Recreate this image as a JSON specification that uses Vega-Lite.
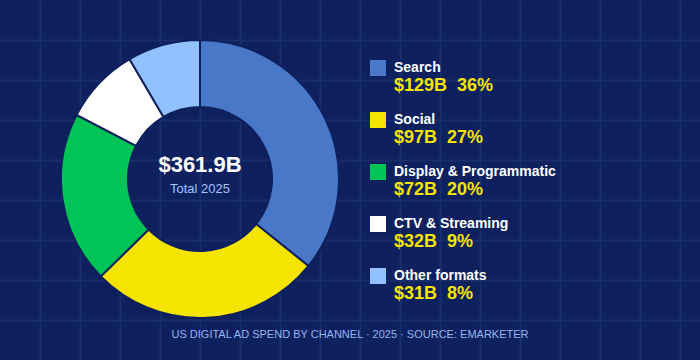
{
  "$schema": "https://vega.github.io/schema/vega-lite/v6.json",
  "width": 700,
  "height": 360,
  "autosize": {"type": "none"},
  "padding": 0,
  "background": "#0e205d",
  "config": {"view": {"stroke": null}, "font": "Liberation Sans"},
  "datasets": {
    "channels": [
      {"channel": "Search", "spend": 129.4, "figure": "$129B\u00a0\u00a036%", "rank": 1},
      {"channel": "Social", "spend": 97.3, "figure": "$97B\u00a0\u00a027%", "rank": 2},
      {"channel": "Display & Programmatic", "spend": 72.3, "figure": "$72B\u00a0\u00a020%", "rank": 3},
      {"channel": "CTV & Streaming", "spend": 32.3, "figure": "$32B\u00a0\u00a09%", "rank": 4},
      {"channel": "Other formats", "spend": 30.6, "figure": "$31B\u00a0\u00a08%", "rank": 5}
    ]
  },
  "layer": [
    {
      "layer": [
        {
          "data": {"name": "channels"},
          "mark": {"type": "arc", "outerRadius": 139, "innerRadius": 72, "stroke": "#0e205d", "strokeWidth": 2},
          "encoding": {
            "theta": {"field": "spend", "type": "quantitative", "stack": true},
            "order": {"field": "rank", "type": "quantitative"},
            "color": {
              "field": "channel",
              "type": "nominal",
              "scale": {
                "domain": ["Search", "Social", "Display & Programmatic", "CTV & Streaming", "Other formats"],
                "range": ["#4a78c8", "#f5e400", "#00c455", "#ffffff", "#91c2ff"]
              },
              "legend": null
            },
            "x": {
              "datum": 200,
              "type": "quantitative",
              "scale": {"domain": [0, 700], "nice": false, "zero": false},
              "axis": {"values": [40, 80, 120, 160, 200, 240, 280, 320, 360, 400, 440, 480, 520, 560, 600, 640, 680], "grid": true, "gridColor": "#182e6d", "gridWidth": 2, "labels": false, "ticks": false, "domain": false, "title": null}
            },
            "y": {
              "datum": 179,
              "type": "quantitative",
              "scale": {"domain": [0, 360], "nice": false, "zero": false, "reverse": true},
              "axis": {"values": [40, 80, 120, 160, 200, 240, 280, 320], "grid": true, "gridColor": "#182e6d", "gridWidth": 2, "labels": false, "ticks": false, "domain": false, "title": null}
            }
          }
        },
        {
          "data": {"values": [{"big": "$361.9B", "small": "Total 2025"}]},
          "mark": {"type": "text", "fontSize": 22, "fontWeight": "bold", "color": "#ffffff", "baseline": "alphabetic", "align": "center", "dy": -7},
          "encoding": {
            "x": {"datum": 200, "type": "quantitative"},
            "y": {"datum": 179, "type": "quantitative"},
            "text": {"field": "big"}
          }
        },
        {
          "data": {"values": [{"big": "$361.9B", "small": "Total 2025"}]},
          "mark": {"type": "text", "fontSize": 13, "color": "#a3c4ff", "baseline": "alphabetic", "align": "center", "dy": 14},
          "encoding": {
            "x": {"datum": 200, "type": "quantitative"},
            "y": {"datum": 179, "type": "quantitative"},
            "text": {"field": "small"}
          }
        },
        {
          "data": {"values": [{"note": "US DIGITAL AD SPEND BY CHANNEL · 2025 · SOURCE: EMARKETER"}]},
          "mark": {"type": "text", "fontSize": 11, "color": "#93b6f2", "baseline": "alphabetic", "align": "center"},
          "encoding": {
            "x": {"datum": 350, "type": "quantitative"},
            "y": {"datum": 337.5, "type": "quantitative"},
            "text": {"field": "note"}
          }
        }
      ]
    },
    {
      "data": {"name": "channels"},
      "encoding": {
        "y": {"field": "channel", "type": "nominal", "sort": null, "scale": {"type": "point", "range": [76, 284], "padding": 0}, "axis": null}
      },
      "layer": [
        {
          "mark": {"type": "point", "shape": "square", "filled": true, "size": 256, "opacity": 1, "yOffset": -8},
          "encoding": {
            "x": {"datum": 378, "type": "quantitative"},
            "color": {"field": "channel", "type": "nominal", "legend": null}
          }
        },
        {
          "mark": {"type": "text", "fontSize": 14, "fontWeight": "bold", "color": "#ffffff", "baseline": "alphabetic", "align": "left", "dy": -4},
          "encoding": {
            "x": {"datum": 394, "type": "quantitative"},
            "text": {"field": "channel"}
          }
        },
        {
          "mark": {"type": "text", "fontSize": 18, "fontWeight": "bold", "color": "#f5e400", "baseline": "alphabetic", "align": "left", "dy": 15},
          "encoding": {
            "x": {"datum": 394, "type": "quantitative"},
            "text": {"field": "figure"}
          }
        }
      ]
    }
  ],
  "resolve": {"scale": {"y": "independent"}}
}
